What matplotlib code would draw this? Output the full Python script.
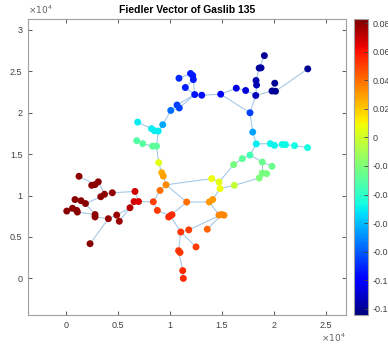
import numpy as np
import matplotlib
matplotlib.use("Agg")
import matplotlib.pyplot as plt
from matplotlib.collections import LineCollection
from matplotlib.ticker import FuncFormatter

plt.rcParams['font.family'] = ['Liberation Sans', 'DejaVu Sans']

# node coordinates (pipe network nodes) and fiedler vector entries
node_x = [19100, 18600, 18780, 18300, 18350, 18270, 20100, 19835, 20170, 23270,
          16400, 17300, 14900, 13080, 12400, 12000, 12210, 12270, 11500, 10890,
          10700, 10920, 10100, 9330, 8250, 8540, 8900, 6920, 6830, 7400,
          8350, 8730, 8940, 9230, 9380, 9640, 9070, 8420, 8810, 10050,
          9900, 10220, 11630, 11060, 11830, 13610, 12530, 10850, 10990, 11250,
          11310, 13800, 14130, 14740, 15000, 15220, 14040, 14740, 14840, 16210,
          16150, 16980, 17720, 18900, 19840, 18900, 19320, 18610, 17720, 17980,
          18320, 19670, 20080, 20820, 21130, 22000, 23250, 1280, 2500, 2820,
          3130, 3370, 3730, 4480, 6660, 890, 1470, 1900, 650, 1060,
          1120, 100, 2820, 2820, 4100, 4900, 5150, 6180, 6570, 7000,
          2340]
node_y = [26900, 25400, 25430, 23900, 23350, 22090, 23570, 22630, 22600, 25300,
          22970, 22690, 22240, 22120, 22200, 24740, 24500, 24010, 23050, 24170,
          20940, 20580, 20280, 18560, 18080, 17830, 17790, 18870, 16630, 16270,
          15970, 15970, 13980, 12770, 12350, 11300, 10620, 9250, 8210, 7570,
          7410, 7690, 9220, 5600, 5860, 5940, 3800, 3350, 3130, 940,
          0, 9230, 9520, 7650, 7710, 7630, 12050, 11640, 10850, 11240,
          13740, 14460, 14890, 14050, 13530, 12720, 12650, 12120, 20000, 17670,
          16240, 16270, 16060, 16180, 16150, 16030, 15790, 12330, 11240, 11330,
          11660, 9860, 10160, 10340, 10500, 9520, 9380, 9040, 8470, 8210,
          8010, 8130, 7710, 7420, 7210, 7650, 6900, 8530, 9280, 9280,
          4190]
fiedler = [-0.121, -0.119, -0.119, -0.116, -0.115, -0.113, -0.121, -0.120, -0.120, -0.121,
           -0.106, -0.108, -0.101, -0.096, -0.095, -0.093, -0.093, -0.093, -0.092, -0.090,
           -0.085, -0.085, -0.076, -0.064, -0.050, -0.050, -0.050, -0.050, -0.031, -0.030,
           -0.028, -0.028, 0.006, 0.027, 0.029, 0.034, 0.040, 0.050, 0.052, 0.055,
           0.055, 0.055, 0.040, 0.053, 0.051, 0.042, 0.051, 0.053, 0.053, 0.055,
           0.055, 0.031, 0.031, 0.035, 0.035, 0.035, 0.008, 0.006, 0.008, -0.003,
           -0.022, -0.028, -0.035, -0.025, -0.025, -0.022, -0.022, -0.020, -0.086, -0.066,
           -0.050, -0.049, -0.049, -0.048, -0.048, -0.047, -0.046, 0.080, 0.080, 0.080,
           0.080, 0.080, 0.080, 0.079, 0.068, 0.081, 0.081, 0.081, 0.081, 0.081,
           0.081, 0.081, 0.080, 0.080, 0.079, 0.078, 0.078, 0.074, 0.068, 0.066,
           0.081]

edges = [(1, 2), (2, 3), (2, 4), (4, 5), (5, 6), (6, 8), (7, 8), (8, 9), (9, 10),
         (6, 12), (12, 11), (11, 13), (13, 14), (14, 15), (13, 69), (6, 69),
         (69, 70), (70, 71), (16, 20), (17, 18), (18, 15), (19, 15), (19, 18),
         (15, 21), (15, 22), (21, 23), (22, 23), (23, 24), (24, 27), (27, 26),
         (26, 25), (25, 28), (27, 32), (32, 31), (31, 30), (30, 29), (32, 33),
         (33, 34), (34, 35), (35, 36), (36, 37), (37, 38), (38, 39), (39, 40),
         (36, 57), (36, 43), (43, 41), (40, 41), (38, 100), (41, 42), (40, 44),
         (44, 45), (45, 55), (46, 55), (44, 48), (48, 49), (48, 50), (50, 51),
         (44, 47), (43, 52), (52, 53), (53, 59), (59, 58), (58, 57), (52, 54),
         (54, 55), (55, 56), (59, 60), (60, 68), (61, 58), (61, 62), (62, 63),
         (63, 71), (63, 64), (64, 65), (64, 66), (66, 67), (67, 68),
         (71, 72), (72, 73), (73, 74), (74, 75), (75, 76), (76, 77),
         (78, 80), (79, 80), (80, 81), (81, 83), (82, 83), (83, 84), (84, 85),
         (85, 100), (86, 87), (87, 88), (88, 82), (89, 90), (90, 91), (92, 90),
         (91, 93), (88, 93), (93, 94), (94, 95), (95, 96), (96, 98), (98, 99),
         (97, 98), (99, 100), (95, 101)]

vmin, vmax = -0.1244, 0.083
xlim = (-3625, 26950)
ylim = (-4420, 31325)
xticks = [0, 5000, 10000, 15000, 20000, 25000]
yticks = [0, 5000, 10000, 15000, 20000, 25000, 30000]
cticks = [0.08, 0.06, 0.04, 0.02, 0, -0.02, -0.04, -0.06, -0.08, -0.1, -0.12]

fig = plt.figure(figsize=(3.88, 3.44), dpi=100)
ax = fig.add_axes([0.0722, 0.0843, 0.8196, 0.8605])
cax = fig.add_axes([0.9116, 0.0843, 0.0374, 0.8605])

segs = [[(node_x[a - 1], node_y[a - 1]), (node_x[b - 1], node_y[b - 1])] for a, b in edges]
ax.add_collection(LineCollection(segs, colors='#9fc6e6', linewidths=0.75, zorder=1))
sc = ax.scatter(node_x, node_y, c=fiedler, cmap='jet', vmin=vmin, vmax=vmax,
                s=25, linewidths=0, zorder=2)

ax.set_xlim(*xlim)
ax.set_ylim(*ylim)
ax.set_xticks(xticks)
ax.set_yticks(yticks)
fmt = FuncFormatter(lambda v, p: ('%g' % (v / 1e4)))
ax.xaxis.set_major_formatter(fmt)
ax.yaxis.set_major_formatter(fmt)
ax.tick_params(direction='in', top=True, right=True, length=3, width=0.6,
               labelsize=6.5, colors='#404040', pad=4)
for s in ax.spines.values():
    s.set_color('#a0a0a0')
    s.set_linewidth(0.8)

ax.set_title('Fiedler Vector of Gaslib 135', fontsize=7.5, fontweight='bold', pad=4)
ax.text(0.0, 1.01, r'$\times 10^4$', transform=ax.transAxes, fontsize=6.5,
        color='#606060', ha='left', va='bottom')
ax.text(1.0, -0.078, r'$\times 10^4$', transform=ax.transAxes, fontsize=6.5,
        color='#606060', ha='right', va='center')

cb = fig.colorbar(sc, cax=cax, ticks=cticks)
cb.ax.yaxis.set_major_formatter(FuncFormatter(lambda v, p: '%g' % v))
cb.ax.tick_params(direction='in', length=3, width=0.6, labelsize=6.5,
                  colors='#404040', pad=3)
cb.outline.set_edgecolor('#a0a0a0')
cb.outline.set_linewidth(0.8)

fig.savefig('out.png', dpi=100)
